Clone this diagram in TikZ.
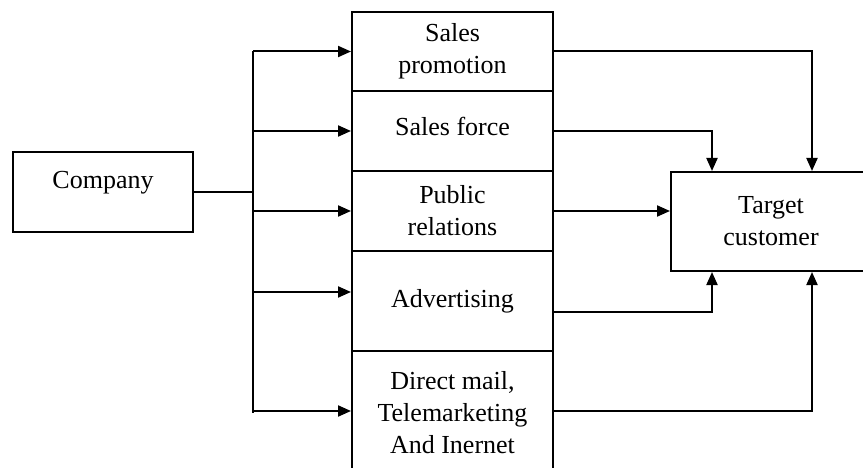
\documentclass[tikz,border=0pt]{standalone}
\usepackage{fontspec}
\setmainfont{Liberation Serif}
\usetikzlibrary{arrows.meta}

\begin{document}
\begin{tikzpicture}[
  x=1pt, y=-1pt,
  box/.style={rectangle, draw=black, line width=2pt, inner sep=0pt,
              align=center, font=\fontsize{26}{32}\selectfont},
  arrow/.style={-{Triangle[length=13pt, width=11pt]}, line width=2pt}
]
\useasboundingbox (0,0) rectangle (863,468);
\clip (0,0) rectangle (863,468);

% nodi
\node[box, minimum width=180pt, minimum height=80pt, text depth=25pt]  (co)  at (103, 192)   {Company};
\node[box, minimum width=201pt, minimum height=79pt]  (sp)  at (452.5, 51.5) {Sales\\ promotion};
\node[box, minimum width=201pt, minimum height=80pt, text depth=10pt]  (sf)  at (452.5, 131)  {Sales force};
\node[box, minimum width=201pt, minimum height=80pt]  (pr)  at (452.5, 211)  {Public\\ relations};
\node[box, minimum width=201pt, minimum height=100pt] (adv) at (452.5, 301)  {Advertising};
\node[box, minimum width=201pt, minimum height=124pt] (dm)  at (452.5, 413)  {Direct mail,\\ Telemarketing\\ And Inernet};
\node[box, minimum width=200pt, minimum height=99pt]  (tc)  at (771, 221.5) {Target\\ customer};

% barra di distribuzione
\coordinate (bus) at (253, 192);
\draw[line width=2pt] (co.east) -- (bus);
\draw[line width=2pt] (bus |- sp.west) -- (bus |- dm.west);

% frecce verso i canali
\draw[arrow] (bus |- sp.west) -- (sp.west);
\draw[arrow] (bus |- sf.west) -- (sf.west);
\draw[arrow] (bus |- pr.west) -- (pr.west);
\draw[arrow] ([yshift=9pt]adv.west -| bus) -- ([yshift=9pt]adv.west);
\draw[arrow] ([yshift=2pt]dm.west -| bus) -- ([yshift=2pt]dm.west);

% frecce verso il cliente
\draw[arrow] (sp.east) -| ([xshift=41pt]tc.north);
\draw[arrow] (sf.east) -| ([xshift=-59pt]tc.north);
\draw[arrow] (pr.east) -- (pr.east -| tc.west);
\draw[arrow] ([yshift=-11pt]adv.east) -| ([xshift=-59pt]tc.south);
\draw[arrow] ([yshift=2pt]dm.east) -| ([xshift=41pt]tc.south);
\end{tikzpicture}
\end{document}
